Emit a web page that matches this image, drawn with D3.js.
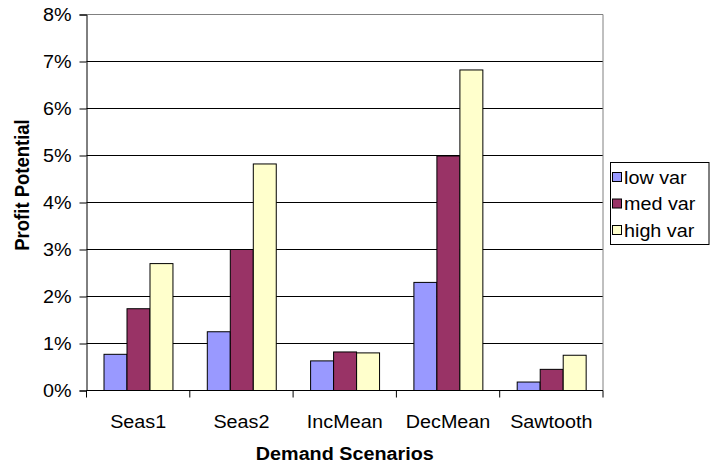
<!DOCTYPE html>
<html>
<head>
<meta charset="utf-8">
<script src="https://cdn.jsdelivr.net/npm/d3@7/dist/d3.min.js"></script>
<style>
  html, body { margin: 0; padding: 0; background: #fff; }
  svg { display: block; }
  text { font-family: "Liberation Sans", Arial, sans-serif; fill: #000; }
</style>
</head>
<body>
<svg id="chart" width="711" height="463"></svg>
<script>
// Demand scenarios and profit potential per variability level
const categories = ["Seas1", "Seas2", "IncMean", "DecMean", "Sawtooth"];
const seriesNames = ["low var", "med var", "high var"];
const lowVar  = [0.0077, 0.0125, 0.0063, 0.0230, 0.0018];
const medVar  = [0.0174, 0.0300, 0.0082, 0.0499, 0.0045];
const highVar = [0.0270, 0.0482, 0.0080, 0.0682, 0.0075];
const seriesColors = ["#9999FF", "#993366", "#FFFFCC"];
const yTicks = [0, 0.01, 0.02, 0.03, 0.04, 0.05, 0.06, 0.07, 0.08];

const seriesValues = [lowVar, medVar, highVar];

const svg = d3.select("#chart");
const fontSize = 17.5;
const stretch = 1.13;

const plot = { left: 86.5, right: 603, top: 14.5, bottom: 390.5 };

const x = d3.scaleBand()
  .domain(categories)
  .range([plot.left, plot.right])
  .paddingInner(0)
  .paddingOuter(0);

const xInner = d3.scaleBand()
  .domain(seriesNames)
  .range([0, x.bandwidth()])
  .paddingInner(0)
  .paddingOuter(0.75);

const y = d3.scaleLinear()
  .domain([0, 0.08])
  .range([plot.bottom, plot.top]);

// horizontal gridlines
svg.append("g")
  .selectAll("line")
  .data(yTicks.filter(t => t > 0 && t < 0.08))
  .join("line")
  .attr("x1", plot.left).attr("x2", plot.right)
  .attr("y1", d => y(d)).attr("y2", d => y(d))
  .attr("stroke", "#000")
  .attr("stroke-width", 1);

// plot area border (top and right)
svg.append("path")
  .attr("d", `M${plot.left},${plot.top}H${plot.right}V${plot.bottom}`)
  .attr("fill", "none")
  .attr("stroke", "#808080")
  .attr("stroke-width", 1);

// bars
const rows = categories.map((c, i) => ({
  category: c,
  values: seriesNames.map((s, j) => ({ series: s, value: seriesValues[j][i], color: seriesColors[j] }))
}));

svg.append("g")
  .selectAll("g")
  .data(rows)
  .join("g")
  .attr("transform", d => `translate(${x(d.category)},0)`)
  .selectAll("rect")
  .data(d => d.values)
  .join("rect")
  .attr("x", d => Math.round(xInner(d.series)) + 0.5)
  .attr("width", xInner.bandwidth())
  .attr("y", d => y(d.value))
  .attr("height", d => y(0) - y(d.value))
  .attr("fill", d => d.color)
  .attr("stroke", "#000")
  .attr("stroke-width", 1);

// y axis
const yAxis = d3.axisLeft(y)
  .tickValues(yTicks)
  .tickFormat(d3.format(".0%"))
  .tickSize(7)
  .tickPadding(8);

const gy = svg.append("g")
  .attr("transform", `translate(${plot.left},0)`)
  .call(yAxis);
gy.select(".domain").attr("stroke", "#000");
gy.selectAll(".tick line").attr("stroke", "#000");
gy.selectAll(".tick text")
  .attr("font-size", fontSize)
  .attr("font-family", "Liberation Sans, Arial, sans-serif")
  .attr("x", -15 / stretch)
  .attr("dy", "0.36em")
  .attr("transform", `scale(${stretch},1)`);

// x axis: ticks at category boundaries, labels centered in each category
const xAxis = d3.axisBottom(x).tickSize(0).tickPadding(0);
const gx = svg.append("g")
  .attr("transform", `translate(0,${plot.bottom})`)
  .call(xAxis);
gx.select(".domain").attr("stroke", "#000").attr("d", `M${plot.left},0H${plot.right}`);
gx.selectAll(".tick text")
  .attr("font-size", fontSize)
  .attr("font-family", "Liberation Sans, Arial, sans-serif")
  .attr("dy", null)
  .attr("y", 0)
  .attr("transform", `translate(0,37) scale(${stretch},1)`);

gx.append("g")
  .selectAll("line")
  .data(categories.map(c => x(c)).concat([x.range()[1]]))
  .join("line")
  .attr("x1", d => d).attr("x2", d => d)
  .attr("y1", 0).attr("y2", 7)
  .attr("stroke", "#000");

// axis titles
svg.append("text")
  .attr("transform", `translate(${(plot.left + plot.right) / 2},460) scale(${stretch},1)`)
  .attr("text-anchor", "middle")
  .attr("font-size", fontSize)
  .attr("font-weight", "bold")
  .text("Demand Scenarios");

svg.append("text")
  .attr("transform", `translate(28.5,185) rotate(-90) scale(1,${stretch})`)
  .attr("text-anchor", "middle")
  .attr("font-size", 18.5)
  .attr("font-weight", "bold")
  .text("Profit Potential");

// legend
const legend = svg.append("g");
legend.append("rect")
  .attr("x", 610.5).attr("y", 162.5)
  .attr("width", 98.5).attr("height", 82)
  .attr("fill", "#fff")
  .attr("stroke", "#000");

const item = legend.selectAll("g.item")
  .data(seriesNames)
  .join("g")
  .attr("class", "item")
  .attr("transform", (d, i) => `translate(0,${183.5 + i * 26.5})`);

item.append("rect")
  .attr("x", 612.5).attr("y", -11)
  .attr("width", 9).attr("height", 9)
  .attr("fill", (d, i) => seriesColors[i])
  .attr("stroke", "#000");

item.append("text")
  .attr("transform", `translate(624,0) scale(${stretch},1)`)
  .attr("font-size", fontSize)
  .text(d => d);
</script>
</body>
</html>
